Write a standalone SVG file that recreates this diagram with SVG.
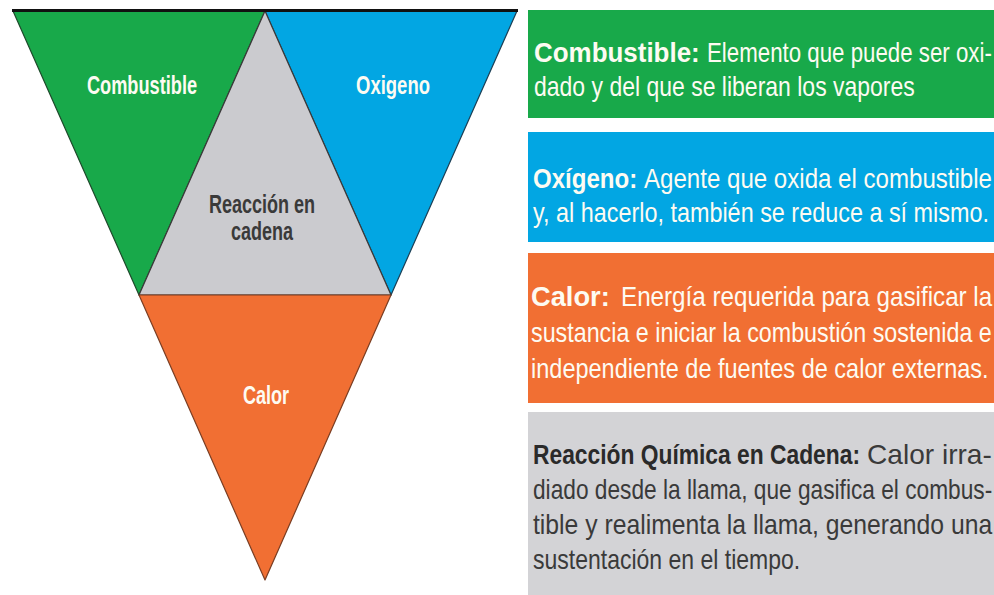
<svg xmlns="http://www.w3.org/2000/svg" width="994" height="595" viewBox="0 0 994 595">
<style>
.tri{stroke-width:1.2;stroke-linejoin:round}
.lbl{font-family:"Liberation Sans",Arial,sans-serif;font-weight:bold;font-size:26px;text-anchor:middle}
.desc{font-family:"Liberation Sans",Arial,sans-serif;font-size:27px}
.b{font-weight:bold}
.w{fill:#fdfbf2}
.d{fill:#3a3a3a}
.dk{fill:#2a2a2a}
</style>
<rect width="994" height="595" fill="#ffffff"/>
<g id="combustible">
<polygon class="tri" points="13,11 265,11 139,295" fill="#18a94a" stroke="#1d4a2a"/>
<text class="lbl w" transform="translate(142,94) scale(0.66,1)" textLength="167" lengthAdjust="spacingAndGlyphs">Combustible</text>
</g>
<g id="oxigeno">
<polygon class="tri" points="265,11 517,11 391,295" fill="#02a6e3" stroke="#1b3f55"/>
<text class="lbl w" transform="translate(393,94) scale(0.66,1)" textLength="112" lengthAdjust="spacingAndGlyphs">Oxigeno</text>
</g>
<g id="reaccion">
<polygon class="tri" points="265,11 391,295 139,295" fill="#cbcbcf" stroke="#3a3a3a"/>
<text class="lbl d" transform="translate(262,213) scale(0.66,1)" textLength="161" lengthAdjust="spacingAndGlyphs">Reacción en</text>
<text class="lbl d" transform="translate(262,240) scale(0.66,1)" textLength="94" lengthAdjust="spacingAndGlyphs">cadena</text>
</g>
<g id="calor">
<polygon class="tri" points="139,295 391,295 265,580" fill="#f16f33" stroke="#7a3d22"/>
<text class="lbl w" transform="translate(266,404) scale(0.66,1)" textLength="70" lengthAdjust="spacingAndGlyphs">Calor</text>
</g>
<line x1="12" y1="10.5" x2="518" y2="10.5" stroke="#111" stroke-width="3"/>
<g id="desc-combustible">
<rect x="528" y="10" width="466" height="108" fill="#18a94a"/>
<text class="desc w b" transform="translate(534,62) scale(0.75,1)" textLength="221" lengthAdjust="spacingAndGlyphs">Combustible:</text>
<text class="desc w" transform="translate(707,62) scale(0.8,1)" textLength="356" lengthAdjust="spacingAndGlyphs">Elemento que puede ser oxi-</text>
<text class="desc w" transform="translate(534,96) scale(0.8,1)" textLength="476" lengthAdjust="spacingAndGlyphs">dado y del que se liberan los vapores</text>
</g>
<g id="desc-oxigeno">
<rect x="528" y="132" width="466" height="110" fill="#02a6e3"/>
<text class="desc w b" transform="translate(533,188) scale(0.75,1)" textLength="139" lengthAdjust="spacingAndGlyphs">Oxígeno:</text>
<text class="desc w" transform="translate(644,188) scale(0.8,1)" textLength="435" lengthAdjust="spacingAndGlyphs">Agente que oxida el combustible</text>
<text class="desc w" transform="translate(533,222) scale(0.8,1)" textLength="570" lengthAdjust="spacingAndGlyphs">y, al hacerlo, también se reduce a sí mismo.</text>
</g>
<g id="desc-calor">
<rect x="528" y="253" width="466" height="150" fill="#f16f33"/>
<text class="desc w b" transform="translate(531,306) scale(0.75,1)" textLength="105" lengthAdjust="spacingAndGlyphs">Calor:</text>
<text class="desc w" transform="translate(621,306) scale(0.8,1)" textLength="464" lengthAdjust="spacingAndGlyphs">Energía requerida para gasificar la</text>
<text class="desc w" transform="translate(531,342) scale(0.8,1)" textLength="576" lengthAdjust="spacingAndGlyphs">sustancia e iniciar la combustión sostenida e</text>
<text class="desc w" transform="translate(531,378) scale(0.8,1)" textLength="572" lengthAdjust="spacingAndGlyphs">independiente de fuentes de calor externas.</text>
</g>
<g id="desc-reaccion">
<rect x="528" y="412" width="466" height="183" fill="#d3d3d6"/>
<text class="desc dk b" transform="translate(533,464) scale(0.75,1)" textLength="436" lengthAdjust="spacingAndGlyphs">Reacción Química en Cadena:</text>
<text class="desc d" transform="translate(867,464) scale(0.8,1)" textLength="156" lengthAdjust="spacingAndGlyphs">Calor irra-</text>
<text class="desc d" transform="translate(533,499) scale(0.8,1)" textLength="574" lengthAdjust="spacingAndGlyphs">diado desde la llama, que gasifica el combus-</text>
<text class="desc d" transform="translate(533,534) scale(0.8,1)" textLength="574" lengthAdjust="spacingAndGlyphs">tible y realimenta la llama, generando una</text>
<text class="desc d" transform="translate(533,569) scale(0.8,1)" textLength="334" lengthAdjust="spacingAndGlyphs">sustentación en el tiempo.</text>
</g>
</svg>
